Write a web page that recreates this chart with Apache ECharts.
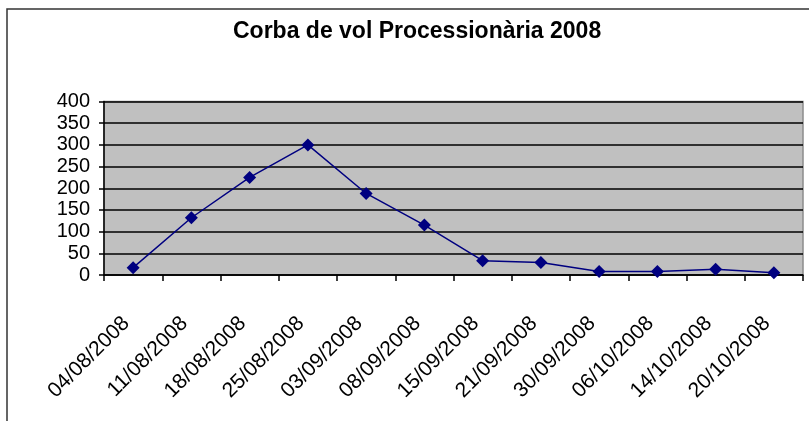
<!DOCTYPE html>
<html>
<head>
<meta charset="utf-8">
<script src="https://cdn.jsdelivr.net/npm/echarts@6/dist/echarts.min.js"></script>
<style>
html,body{margin:0;padding:0;background:#fff;}
#chart{width:809px;height:421px;}
</style>
</head>
<body>
<div id="chart"></div>
<script>
const titleText = 'Corba de vol Processionària 2008';
const categories = ['04/08/2008','11/08/2008','18/08/2008','25/08/2008','03/09/2008','08/09/2008','15/09/2008','21/09/2008','30/09/2008','06/10/2008','14/10/2008','20/10/2008'];
const values = [17, 132, 225, 300, 188, 115, 33, 29, 8, 8, 13, 5];
const yMin = 0, yMax = 400, yStep = 50;

const FONT = "'Liberation Sans', Arial, sans-serif";
const chart = echarts.init(document.getElementById('chart'), null, {renderer: 'canvas'});
chart.setOption({
  backgroundColor: '#ffffff',
  animation: false,
  title: {
    text: titleText,
    left: 228,
    top: 15,
    textStyle: {fontFamily: FONT, fontSize: 23, fontWeight: 'bold', color: '#000'}
  },
  graphic: [{
    type: 'rect',
    shape: {x: 7, y: 9, width: 900, height: 500},
    style: {fill: 'none', stroke: '#333', lineWidth: 1.5},
    silent: true
  }],
  grid: {
    left: 104, right: 6, top: 101.5, bottom: 146,
    show: true,
    backgroundColor: '#c0c0c0',
    borderColor: '#8c8c8c',
    borderWidth: 1.5
  },
  xAxis: {
    type: 'category',
    data: categories,
    boundaryGap: true,
    axisLine: {show: true, lineStyle: {color: '#000', width: 1.5}},
    axisTick: {show: true, alignWithLabel: false, length: 6, lineStyle: {color: '#000', width: 1.5}},
    axisLabel: {
      rotate: 45, margin: 38, interval: 0,
      padding: [0, 10, 0, 0],
      fontFamily: FONT, fontSize: 21, color: '#000'
    },
    splitLine: {show: false}
  },
  yAxis: {
    type: 'value',
    min: yMin, max: yMax, interval: yStep,
    axisLine: {show: true, lineStyle: {color: '#000', width: 1.5}},
    axisTick: {show: true, length: 5, lineStyle: {color: '#000', width: 1.5}},
    axisLabel: {margin: 14, fontFamily: FONT, fontSize: 20, color: '#000'},
    splitLine: {show: true, lineStyle: {color: '#000', width: 1.5}}
  },
  series: [{
    type: 'line',
    data: values,
    symbol: 'diamond',
    symbolSize: 13,
    lineStyle: {color: '#000080', width: 1.5},
    itemStyle: {color: '#000080'},
    z: 5
  }]
});
</script>
</body>
</html>
